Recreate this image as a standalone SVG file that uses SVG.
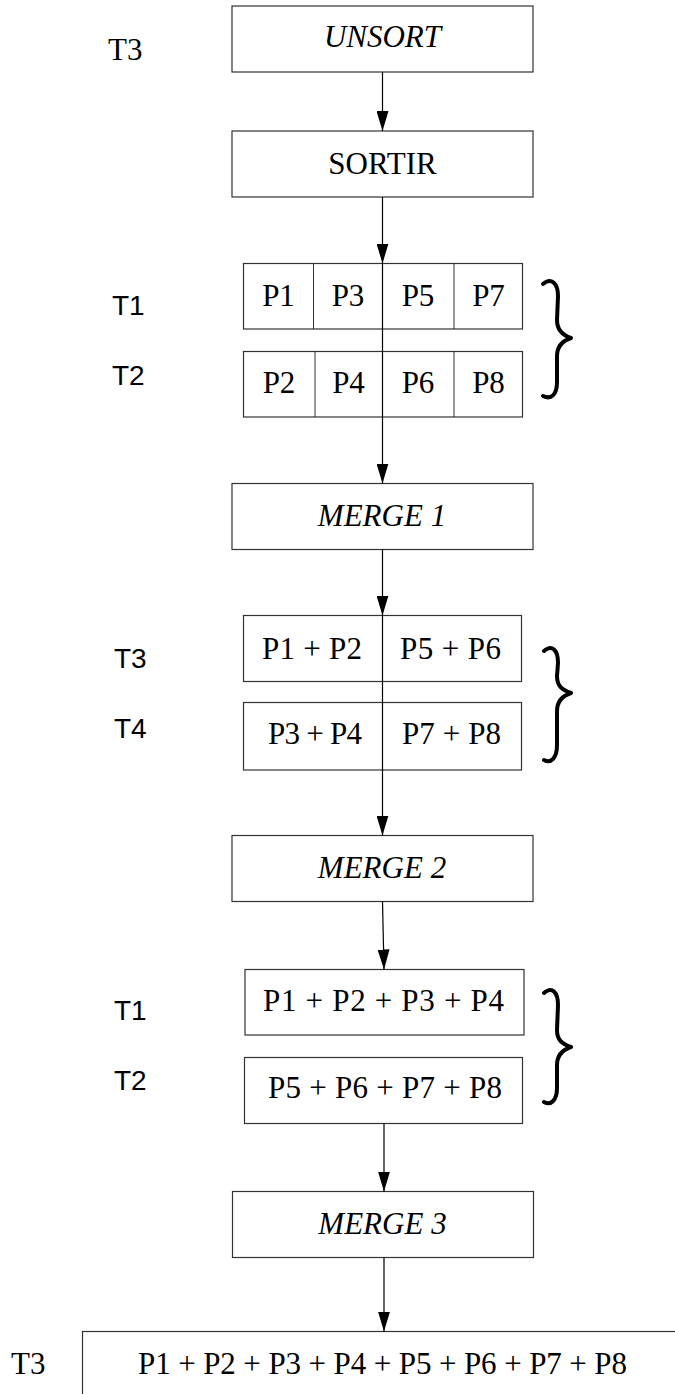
<svg xmlns="http://www.w3.org/2000/svg" width="675" height="1394" viewBox="0 0 675 1394">
  <defs>
    <marker id="arrow" viewBox="0 0 20 12" refX="20" refY="6" markerWidth="20" markerHeight="12" markerUnits="userSpaceOnUse" orient="auto">
      <path d="M0,0 L20,6 L0,12 Z" fill="#000"/>
    </marker>
    <style>
      .box { fill: #fff; stroke: #333; stroke-width: 1.2; }
      .div { stroke: #333; stroke-width: 1; }
      .conn { stroke: #000; stroke-width: 1.2; fill: none; }
      .brace { fill: none; stroke: #000; stroke-width: 4; stroke-linecap: round; stroke-linejoin: round; }
      .tm { font-family: "Liberation Serif", "Times New Roman", serif; font-size: 31px; fill: #000; }
      .ti { font-family: "Liberation Serif", "Times New Roman", serif; font-size: 31px; font-style: italic; fill: #000; }
      .lab { font-family: "Liberation Sans", Arial, sans-serif; font-size: 28px; fill: #000; }
      .mid { text-anchor: middle; }
    </style>
  </defs>

  <rect width="675" height="1394" fill="#fff"/>

  <!-- stage: unsorted input -->
  <g id="unsort">
    <rect class="box" x="232" y="6" width="301" height="66"/>
    <text class="ti mid" x="382.5" y="47">UNSORT</text>
  </g>
  <text id="label-t3-top" class="tm" x="108" y="60">T3</text>

  <!-- stage: sort -->
  <g id="sortir">
    <rect class="box" x="232" y="131" width="301" height="66"/>
    <text class="tm mid" x="382.5" y="174">SORTIR</text>
  </g>

  <!-- runs on tapes T1 / T2 -->
  <g id="runs-t1">
    <rect class="box" x="243.5" y="263.5" width="279" height="65.5"/>
    <line class="div" x1="313.5" y1="263.5" x2="313.5" y2="329"/>
    <line class="div" x1="454" y1="263.5" x2="454" y2="329"/>
    <text class="tm mid" x="278.5" y="306">P1</text>
    <text class="tm mid" x="348" y="306">P3</text>
    <text class="tm mid" x="418" y="306">P5</text>
    <text class="tm mid" x="488.5" y="306">P7</text>
  </g>
  <g id="runs-t2">
    <rect class="box" x="243.5" y="351.5" width="279" height="65.5"/>
    <line class="div" x1="315" y1="351.5" x2="315" y2="417"/>
    <line class="div" x1="454" y1="351.5" x2="454" y2="417"/>
    <text class="tm mid" x="279" y="393">P2</text>
    <text class="tm mid" x="348.5" y="393">P4</text>
    <text class="tm mid" x="418" y="393">P6</text>
    <text class="tm mid" x="488.5" y="393">P8</text>
  </g>
  <text class="lab" x="112" y="315">T1</text>
  <text class="lab" x="112" y="385">T2</text>
  <path class="brace" d="M543,284 C551,277 558,283 558,296 L557,320 C557,330 562,335 571,338 C562,341 557,346 557,356 L557,382 C557,395 551,400 543,396"/>

  <!-- first merge -->
  <g id="merge1">
    <rect class="box" x="232" y="483.5" width="301" height="66"/>
    <text class="ti mid" x="382" y="526">MERGE 1</text>
  </g>

  <g id="runs-t3">
    <rect class="box" x="243.5" y="615.5" width="278" height="66"/>
    <text class="tm" x="262" y="659" textLength="100" lengthAdjust="spacing">P1 + P2</text>
    <text class="tm" x="400" y="659" textLength="101" lengthAdjust="spacing">P5 + P6</text>
  </g>
  <g id="runs-t4">
    <rect class="box" x="243.5" y="702.5" width="278" height="67.5"/>
    <text class="tm" x="268" y="744" textLength="94" lengthAdjust="spacing">P3 + P4</text>
    <text class="tm" x="402" y="744" textLength="99" lengthAdjust="spacing">P7 + P8</text>
  </g>
  <text class="lab" x="114" y="668">T3</text>
  <text class="lab" x="114" y="738">T4</text>
  <path class="brace" d="M544,651 C552,644 558,650 558,663 L557,676 C557,686 562,690 571,693 C562,696 557,701 557,711 L557,745 C557,758 551,764 544,760"/>

  <!-- second merge -->
  <g id="merge2">
    <rect class="box" x="232" y="835.5" width="301" height="66"/>
    <text class="ti mid" x="382" y="878">MERGE 2</text>
  </g>

  <g id="runs-t1b">
    <rect class="box" x="245" y="969.5" width="279" height="65.5"/>
    <text class="tm" x="263" y="1011" textLength="241" lengthAdjust="spacing">P1 + P2 + P3 + P4</text>
  </g>
  <g id="runs-t2b">
    <rect class="box" x="244.5" y="1057.5" width="278" height="66"/>
    <text class="tm" x="268" y="1098" textLength="234" lengthAdjust="spacing">P5 + P6 + P7 + P8</text>
  </g>
  <text class="lab" x="114" y="1020">T1</text>
  <text class="lab" x="114" y="1090">T2</text>
  <path class="brace" d="M544,993 C552,986 558,992 558,1005 L557,1030 C557,1040 562,1044 571,1047 C562,1050 557,1055 557,1065 L557,1088 C557,1100 551,1106 544,1102"/>

  <!-- third merge -->
  <g id="merge3">
    <rect class="box" x="232.5" y="1191.5" width="301" height="66"/>
    <text class="ti mid" x="382.5" y="1234">MERGE 3</text>
  </g>

  <!-- final sorted result -->
  <g id="result">
    <rect class="box" x="82.5" y="1331.5" width="640" height="120"/>
    <text class="tm" x="138" y="1374" textLength="489" lengthAdjust="spacing">P1 + P2 + P3 + P4 + P5 + P6 + P7 + P8</text>
  </g>
  <text id="label-t3-bottom" class="tm" x="11" y="1374">T3</text>

  <!-- connectors -->
  <g id="connectors">
    <line class="conn" x1="382.5" y1="72" x2="382.5" y2="131" marker-end="url(#arrow)"/>
    <line class="conn" x1="382.5" y1="197" x2="382.5" y2="263.5" marker-end="url(#arrow)"/>
    <line class="conn" x1="382.5" y1="263.5" x2="382.5" y2="483.5" marker-end="url(#arrow)"/>
    <line class="conn" x1="382.5" y1="549.5" x2="382.5" y2="615.5" marker-end="url(#arrow)"/>
    <line class="conn" x1="382.5" y1="615.5" x2="382.5" y2="835.5" marker-end="url(#arrow)"/>
    <line class="conn" x1="382.5" y1="901.5" x2="384" y2="969.5" marker-end="url(#arrow)"/>
    <line class="conn" x1="384" y1="1123.5" x2="384" y2="1191.5" marker-end="url(#arrow)"/>
    <line class="conn" x1="384" y1="1257.5" x2="384" y2="1331.5" marker-end="url(#arrow)"/>
  </g>
</svg>
